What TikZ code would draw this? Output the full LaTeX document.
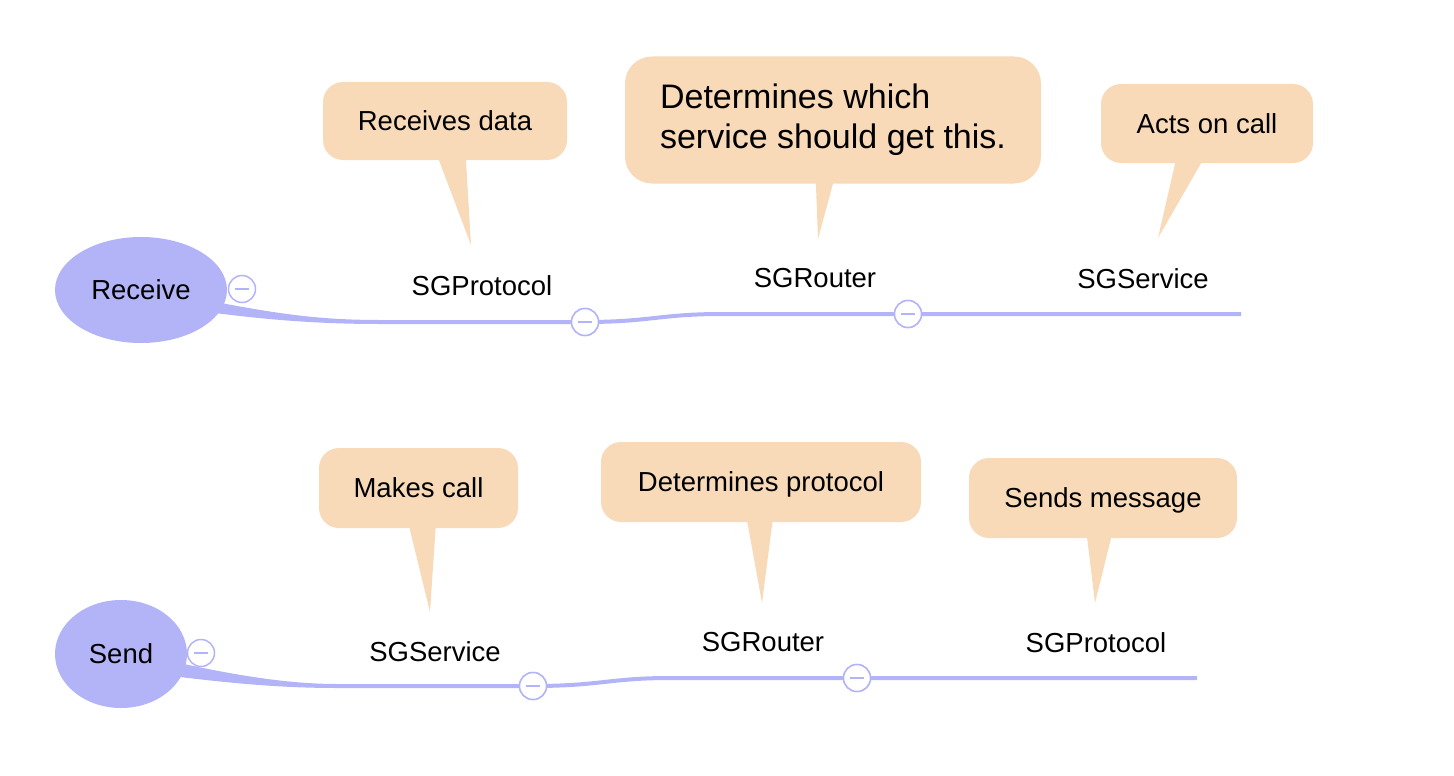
\documentclass[tikz,border=0pt]{standalone}
\usepackage{fontspec}
\setmainfont{Liberation Sans}
\usetikzlibrary{shapes.geometric,calc}
\definecolor{topicblue}{HTML}{B3B3F8}
\definecolor{calloutfill}{HTML}{F8DAB8}
\begin{document}
\begin{tikzpicture}[x=1pt,y=-1pt,
  every node/.style={font=\fontsize{27.5}{33}\selectfont, text=black},
  topic/.style={ellipse, fill=topicblue, inner sep=0, text height=19.7, text depth=0},
  lbl/.style={anchor=base, inner sep=0},
  callbase/.style={fill=calloutfill, rounded corners=20, inner sep=0},
  callbox/.style={callbase, text height=19.7, text depth=0},
  tail/.style={fill=calloutfill},
  branch/.style={draw=topicblue, line width=4},
  taper/.style={fill=topicblue},
  minus/.style={circle, draw=topicblue, line width=1.5, fill=white, minimum size=27, inner sep=0,
    path picture={\draw[topicblue, line width=1.5] ([xshift=-7pt]path picture bounding box.center) -- ([xshift=7pt]path picture bounding box.center);}}]
\useasboundingbox (0,0) rectangle (1454,776);

% ---------- Receive row ----------
\coordinate (r0) at (380,322);
\coordinate (r2) at (722,314);
\coordinate (rend) at (1241,314);
\fill[taper] (221,303) .. controls (280,314) and (320,320) .. (380,320) -- (380,324) .. controls (320,324) and (270,320) .. (215,313) -- cycle;
\node[minus] (rm1) at (585,322) {};
\node[minus] (rm2) at (908,314) {};
\draw[branch] (r0) -- (rm1.center) .. controls (650,322) and (660,314) .. (r2) -- (rm2.center) -- (rend);
\node[minus] (rm1) at (585,322) {};
\node[minus] (rm2) at (908,314) {};

\node[topic, minimum width=172, minimum height=106] (recv) at (141,290) {Receive};
\node[minus] (rm0) at (242,289) {};

\node[lbl] (rp) at (482,295) {SGProtocol};
\node[lbl] (rr) at (815,287) {SGRouter};
\node[lbl] (rs) at (1143,288) {SGService};

% callouts (top)
\node[callbox, minimum width=244, minimum height=78] (c1) at (445,121) {Receives data};
\coordinate (t1) at (471,245);
\fill[tail] ($(c1.south west)+(115,-3)$) -- (t1) -- ($(c1.south west)+(143,-3)$) -- cycle;

\node[callbase, rounded corners=27, minimum width=416, minimum height=127, align=left,
  font=\fontsize{34}{40}\selectfont] (c2) at (833,120) {Determines which\\service should get this.};
\coordinate (t2) at (818,239);
\fill[tail] ($(c2.south west)+(191,-3)$) -- (t2) -- ($(c2.south west)+(209,-3)$) -- cycle;

\node[callbox, minimum width=212, minimum height=79] (c3) at (1207,123.5) {Acts on call};
\coordinate (t3) at (1158,238);
\fill[tail] ($(c3.south west)+(75,-3)$) -- (t3) -- ($(c3.south west)+(102,-3)$) -- cycle;

% ---------- Send row ----------
\coordinate (s0) at (337,686);
\coordinate (s2) at (670,678);
\coordinate (send) at (1197,678);
\fill[taper] (184,664) .. controls (240,676) and (290,684) .. (337,684) -- (337,688) .. controls (280,688) and (230,683) .. (180,677) -- cycle;
\node[minus] (sm1) at (533,686) {};
\node[minus] (sm2) at (857,678) {};
\draw[branch] (s0) -- (sm1.center) .. controls (600,686) and (610,678) .. (s2) -- (sm2.center) -- (send);
\node[minus] (sm1) at (533,686) {};
\node[minus] (sm2) at (857,678) {};

\node[topic, minimum width=132, minimum height=108] (snd) at (121,654) {Send};
\node[minus] (sm0) at (201,653) {};

\node[lbl] (ss) at (435,661) {SGService};
\node[lbl] (sr) at (763,651) {SGRouter};
\node[lbl] (sp) at (1096,652) {SGProtocol};

% callouts (bottom)
\node[callbox, minimum width=199, minimum height=80] (c4) at (418.5,488) {Makes call};
\coordinate (t4) at (430,612);
\fill[tail] ($(c4.south west)+(90,-3)$) -- (t4) -- ($(c4.south west)+(117,-3)$) -- cycle;

\node[callbox, minimum width=320, minimum height=80] (c5) at (761,482) {Determines protocol};
\coordinate (t5) at (762,603);
\fill[tail] ($(c5.south west)+(146,-3)$) -- (t5) -- ($(c5.south west)+(172,-3)$) -- cycle;

\node[callbox, minimum width=268, minimum height=80] (c6) at (1103,498) {Sends message};
\coordinate (t6) at (1095,603);
\fill[tail] ($(c6.south west)+(118,-3)$) -- (t6) -- ($(c6.south west)+(143,-3)$) -- cycle;
\end{tikzpicture}
\end{document}
